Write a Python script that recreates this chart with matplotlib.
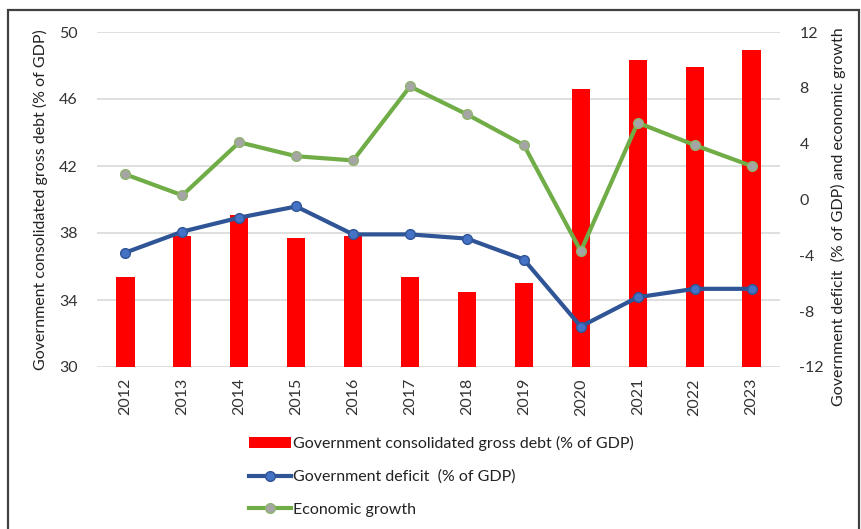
import matplotlib
matplotlib.use("Agg")
import matplotlib.pyplot as plt
from matplotlib.patches import Rectangle, Patch
from matplotlib.lines import Line2D
import numpy as np

plt.rcParams['font.family'] = ['Lato', 'DejaVu Sans']
plt.rcParams['axes.unicode_minus'] = False

years = ['2012', '2013', '2014', '2015', '2016', '2017',
         '2018', '2019', '2020', '2021', '2022', '2023']
debt = [35.4, 37.8, 39.1, 37.7, 37.8, 35.4, 34.5, 35.0, 46.6, 48.3, 47.9, 48.9]
deficit = [-3.8, -2.3, -1.3, -0.5, -2.5, -2.5, -2.8, -4.3, -9.1, -7.0, -6.4, -6.4]
growth = [1.8, 0.3, 4.1, 3.1, 2.8, 8.1, 6.1, 3.9, -3.7, 5.5, 3.9, 2.4]

left_ticks = [30, 34, 38, 42, 46, 50]
right_ticks = [-12, -8, -4, 0, 4, 8, 12]

W, H = 861, 529
fig = plt.figure(figsize=(W / 100, H / 100), dpi=100)

# outer frame around the whole chart
fig.add_artist(Rectangle((8 / W, -0.05), 851 / W, 1.05 - 10 / H,
                         transform=fig.transFigure, fill=False,
                         edgecolor='#404040', linewidth=1.6))

ax = fig.add_axes([97 / W, 1 - 367 / H, 683 / W, 335 / H])
x = np.arange(len(years))

ax.bar(x, debt, width=0.32, color='#ff0000', zorder=2,
       label='Government consolidated gross debt (% of GDP)')
ax.set_ylim(30, 50)
ax.set_xlim(-0.5, len(years) - 0.5)
ax.set_yticks(left_ticks)
ax.grid(axis='y', color='#d9d9d9', linewidth=1.2, zorder=0)
ax.set_axisbelow(True)
for s in ax.spines.values():
    s.set_visible(False)
ax.tick_params(axis='both', length=0, labelsize=11.5, colors='#333333')
ax.tick_params(axis='y', pad=14)
ax.tick_params(axis='x', pad=8)
ax.set_xticks(x)
ax.set_xticklabels(years, rotation=90)
ax.set_ylabel('Government consolidated gross debt (% of GDP)', fontsize=11.5,
              color='#222222', labelpad=8)

ax2 = ax.twinx()
ax2.set_ylim(-12, 12)
ax2.set_yticks(right_ticks)
for s in ax2.spines.values():
    s.set_visible(False)
ax2.tick_params(axis='y', length=0, labelsize=11.5, colors='#333333', pad=14)
ax2.plot(x, deficit, color='#2f5597', linewidth=3, marker='o', markersize=7,
         markerfacecolor='#4472c4', markeredgecolor='#2f5597', zorder=3)
ax2.plot(x, growth, color='#70ad47', linewidth=3, marker='o', markersize=7,
         markerfacecolor='#a5a5a5', markeredgecolor='#8fb46e', zorder=3)
ax2.set_ylabel('Government deficit  (% of GDP) and economic growth',
               fontsize=11.5, color='#222222', labelpad=6)
ax2.yaxis.set_label_coords(1.075, 0.45)

handles = [
    Patch(facecolor='#ff0000', edgecolor='none'),
    Line2D([], [], color='#2f5597', linewidth=3, marker='o', markersize=7,
           markerfacecolor='#4472c4', markeredgecolor='#2f5597'),
    Line2D([], [], color='#70ad47', linewidth=3, marker='o', markersize=7,
           markerfacecolor='#a5a5a5', markeredgecolor='#8fb46e'),
]
labels = ['Government consolidated gross debt (% of GDP)',
          'Government deficit  (% of GDP)',
          'Economic growth']
fig.legend(handles, labels, loc='upper left',
           bbox_to_anchor=(243 / W, 1 - 430 / H), frameon=False,
           fontsize=11.5, handlelength=2.6, handletextpad=0.1,
           labelspacing=1.15, borderaxespad=0, labelcolor='#222222')

fig.savefig('out.png', dpi=100)
